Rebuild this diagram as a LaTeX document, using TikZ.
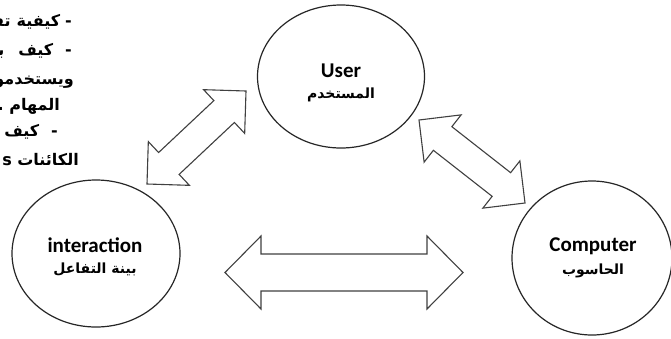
\documentclass[tikz,border=0pt]{standalone}
\usepackage{fontspec}
\setmainfont{Carlito}
\newfontfamily\arabicfont[Script=Arabic]{DejaVu Sans}
\TeXXeTstate=1
\usetikzlibrary{shapes.geometric,calc}

\tikzset{
  unit/.style={draw=black!85, line width=1.2pt, ellipse, inner sep=0pt},
  entxt/.style={font=\fontsize{21}{24}\selectfont\bfseries, inner sep=0pt},
  artxt/.style={font=\arabicfont\fontsize{14}{17}\selectfont\bfseries, inner sep=0pt},
  blockarrow/.style={draw=black!75, line width=1.1pt, fill=white, line join=miter},
  notes/.style={font=\arabicfont\fontsize{16}{19}\selectfont\bfseries, anchor=base east, inner sep=0pt},
}

% double-headed block arrow between two tips:
% #3 half shaft width, #4 half head width, #5 head length
\newcommand\twinarrow[5]{%
  \draw[blockarrow] (#1)
   -- ($(#1)!#5!(#2)!#4!90:(#2)$)
   -- ($(#1)!#5!(#2)!#3!90:(#2)$)
   -- ($(#2)!#5!(#1)!#3!-90:(#1)$)
   -- ($(#2)!#5!(#1)!#4!-90:(#1)$)
   -- (#2)
   -- ($(#2)!#5!(#1)!#4!90:(#1)$)
   -- ($(#2)!#5!(#1)!#3!90:(#1)$)
   -- ($(#1)!#5!(#2)!#3!-90:(#2)$)
   -- ($(#1)!#5!(#2)!#4!-90:(#2)$)
   -- cycle;
}

\begin{document}
\begin{tikzpicture}[x=1pt, y=-1pt]
  \fill[white] (0,0) rectangle (671,338);
  \useasboundingbox (0,0) rectangle (671,338);

  % notes column on the left, running off the left edge
  \begin{scope}
    \clip (0,0) rectangle (90,338);
    \node[notes] (n1) at (72,26)  {\beginR -\hspace{5pt}كيفية\hspace{6pt}تفاعل\endR};
    \node[notes] (n2) at (72,55)  {\beginR -\hspace{12pt}كيف\hspace{14pt}بين\endR};
    \node[notes] (n3) at (74,84)  {\beginR ويستخدمون\endR};
    \node[notes] (n4) at (60,110) {\beginR المهام .\endR};
    \node[notes] (n5) at (58,136) {\beginR -\hspace{12pt}كيف\endR};
    \node[notes] (n6) at (79,165) {\beginR الكائنات \beginL s\endL\endR};
  \end{scope}

  % the three parts
  \node[unit, minimum width=167pt, minimum height=143pt] (user) at (341,76.5) {};
  \node[entxt] (user-en) at (341,71) {User};
  \node[artxt] (user-ar) at (341,95) {\beginR المستخدم\endR};

  \node[unit, minimum width=168pt, minimum height=147pt] (inter) at (96,253.5) {};
  \node[entxt] (inter-en) at (95,245) {interaction};
  \node[artxt] (inter-ar) at (95,269) {\beginR بينة التفاعل\endR};

  \node[unit, minimum width=160pt, minimum height=154pt] (comp) at (592,258) {};
  \node[entxt] (comp-en) at (593,246) {Computer};
  \node[artxt] (comp-ar) at (593,271) {\beginR الحاسوب\endR};

  % arrow tips
  \coordinate (ui-a) at (147,184);
  \coordinate (ui-b) at (246,91);
  \coordinate (uc-a) at (419,120);
  \coordinate (uc-b) at (525,203);
  \coordinate (ic-a) at (225,272.5);
  \coordinate (ic-b) at (463,272.5);

  \twinarrow{ui-a}{ui-b}{15pt}{30pt}{30pt}
  \twinarrow{uc-a}{uc-b}{15pt}{30pt}{30pt}
  \twinarrow{ic-a}{ic-b}{18.5pt}{36.5pt}{36pt}
\end{tikzpicture}
\end{document}
